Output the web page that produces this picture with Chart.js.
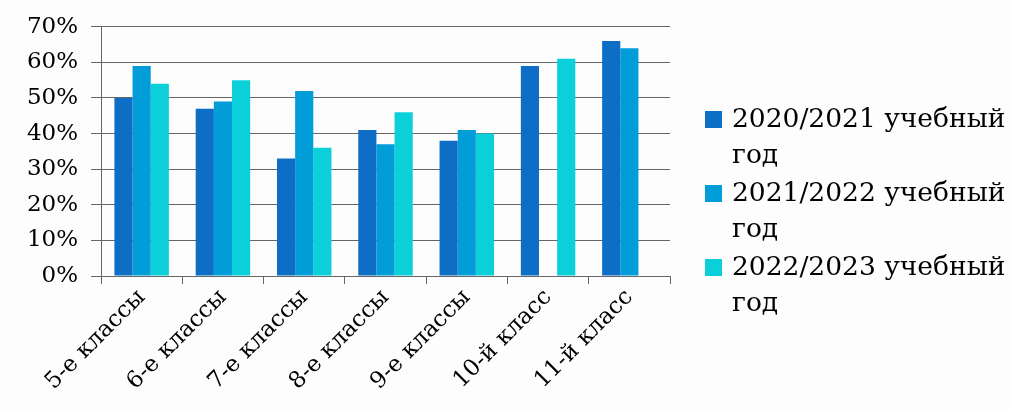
<!DOCTYPE html>
<html><head><meta charset="utf-8">
<script src="https://cdn.jsdelivr.net/npm/chart.js@4.4.1/dist/chart.umd.min.js"></script>
<style>
html,body{margin:0;padding:0;background:#fdfdfd;}
#wrap{position:relative;width:1011px;height:410px;}
canvas{position:absolute;left:0;top:0;}
#legend{position:absolute;left:705px;top:100px;font-family:"DejaVu Serif",serif;font-size:26.5px;color:#000;}
.item{display:flex;align-items:flex-start;margin-bottom:2px;}
.sw{width:17px;height:17px;margin-top:11px;margin-right:10px;flex:none;}
.txt{line-height:36px;width:300px;}
</style></head><body>
<div id="wrap"><canvas id="c" width="1011" height="410"></canvas><div id="legend"></div></div>
<script>
const categories = ["5-е классы","6-е классы","7-е классы","8-е классы","9-е классы","10-й класс","11-й класс"];
const seriesNames = ["2020/2021 учебный год","2021/2022 учебный год","2022/2023 учебный год"];
const s2021 = [50,47,33,41,38,59,66];
const s2022 = [59,49,52,37,41,null,64];
const s2023 = [54,55,36,46,40,61,null];
const colors = ["#0E6EC5","#009DD9","#0BD0D9"];
const yTicks = [0,10,20,30,40,50,60,70];

const font = "DejaVu Serif";
const ctx = document.getElementById('c');
new Chart(ctx, {
  type: 'bar',
  data: {
    labels: categories,
    datasets: [s2021, s2022, s2023].map((d,i)=>({
      label: seriesNames[i], data: d, backgroundColor: colors[i],
      borderWidth: 0,
      categoryPercentage: 0.67, barPercentage: 1.0
    }))
  },
  options: {
    responsive: false, animation: false,
    layout: { padding: { left: 0, right: 341, top: 23, bottom: 0 } },
    plugins: { legend: { display: false }, tooltip: { enabled: false } },
    scales: {
      x: {
        grid: { display: true, drawOnChartArea: false, offset: true, color: '#666', tickLength: 8 },
        border: { color: '#666', width: 1 },
        ticks: { color: '#000', font: { family: font, size: 23 }, maxRotation: 45, minRotation: 45, padding: 0 },
        afterFit: (s) => { s.height = 410 - 276; }
      },
      y: {
        min: 0, max: 70,
        afterBuildTicks: (s) => { s.ticks = yTicks.map(v=>({value:v})); },
        grid: { color: '#666', tickLength: 10 },
        border: { color: '#666', width: 1 },
        ticks: { color: '#000', font: { family: font, size: 23 }, padding: 13, callback: v => v + '%' },
        afterFit: (s) => { s.width = 101; }
      }
    }
  }
});
const lg = document.getElementById('legend');
seriesNames.forEach((n,i)=>{
  const it = document.createElement('div'); it.className='item';
  const sw = document.createElement('div'); sw.className='sw'; sw.style.background=colors[i];
  const tx = document.createElement('div'); tx.className='txt'; tx.textContent=n;
  it.appendChild(sw); it.appendChild(tx); lg.appendChild(it);
});
</script></body></html>
